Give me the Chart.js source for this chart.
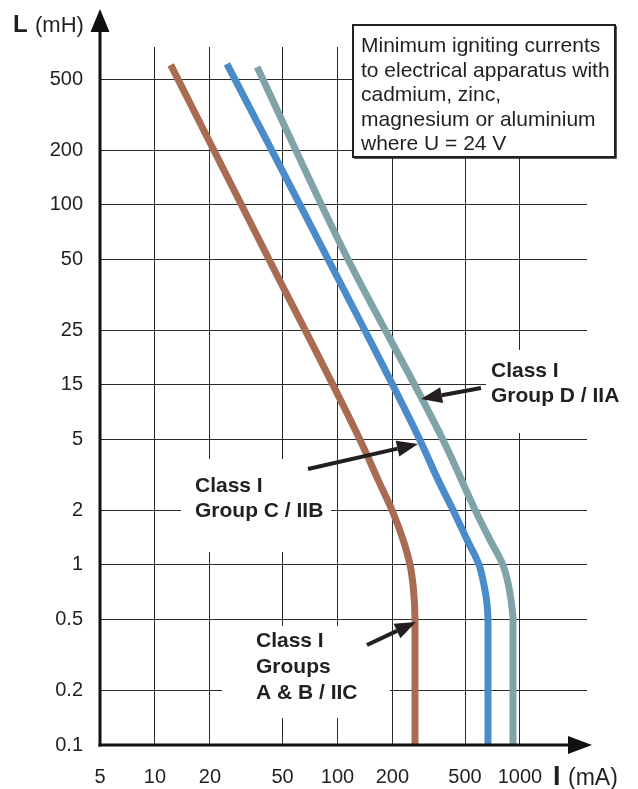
<!DOCTYPE html>
<html>
<head>
<meta charset="utf-8">
<script src="https://cdn.jsdelivr.net/npm/chart.js@4.4.1/dist/chart.umd.min.js"></script>
<style>
  html, body { margin: 0; padding: 0; background: #fff; }
  #wrap { width: 638px; height: 789px; }
</style>
</head>
<body>
<div id="wrap"><canvas id="chart" width="638" height="789"></canvas></div>
<script>
// --- axis ticks (labels "15" and "25" sit on the 10 and 20 decade marks, as printed) ---
const xTicks = [5, 10, 20, 50, 100, 200, 500, 1000];
const xTickLabels = ['5', '10', '20', '50', '100', '200', '500', '1000'];
const yTicks = [0.1, 0.2, 0.5, 1, 2, 5, 10, 20, 50, 100, 200, 500];
const yTickLabels = ['0.1', '0.2', '0.5', '1', '2', '5', '15', '25', '50', '100', '200', '500'];

// --- curves, I in mA / L in mH ---
// Class I Groups A & B / IIC (brown)
const abCurrent    = [12.2, 41.0, 133, 167, 201, 229, 250, 261, 266, 266];
const abInductance = [600, 52.7, 4.95, 2.97, 1.97, 1.38, 1.0, 0.73, 0.494, 0.1];
// Class I Group C / IIB (blue)
const cCurrent     = [24.8, 141, 283, 356, 435, 513, 597, 636, 656, 668, 668];
const cInductance  = [607, 20.2, 4.95, 2.97, 1.97, 1.38, 1.0, 0.77, 0.64, 0.494, 0.1];
// Class I Group D / IIA (grey)
const dCurrent     = [36.3, 109, 379, 575, 685, 807, 866, 893, 916, 916];
const dInductance  = [584, 54.8, 4.95, 1.97, 1.38, 1.0, 0.77, 0.64, 0.494, 0.1];

const FONT = '"Liberation Sans", Arial, Helvetica, sans-serif';
const INK = '#231f20';

function pts(xs, ys) {
    return xs.map((v, i) => ({ x: v, y: ys[i] }));
}

function arrow(ctx, x1, y1, x2, y2, len, half, lw) {
    const a = Math.atan2(y2 - y1, x2 - x1);
    const bx = x2 - len * Math.cos(a), by = y2 - len * Math.sin(a);
    ctx.beginPath();
    ctx.moveTo(x1, y1);
    ctx.lineTo(bx, by);
    ctx.lineWidth = lw;
    ctx.stroke();
    ctx.beginPath();
    ctx.moveTo(x2, y2);
    ctx.lineTo(bx + half * Math.sin(a), by - half * Math.cos(a));
    ctx.lineTo(bx - half * Math.sin(a), by + half * Math.cos(a));
    ctx.closePath();
    ctx.fill();
}

// white label boxes, note box, annotations and the arrowed axes
const decor = {
    id: 'decor',
    afterDraw(chart) {
        const ctx = chart.ctx;
        const area = chart.chartArea;
        ctx.save();

        // label backgrounds knock out the grid
        ctx.fillStyle = '#fff';
        ctx.fillRect(486, 350, 146, 83);
        ctx.fillRect(181, 459, 150, 93);
        ctx.fillRect(222, 626, 168, 92);

        // note box
        ctx.fillRect(353, 25, 262, 132);
        ctx.strokeStyle = '#222';
        ctx.lineWidth = 2;
        ctx.strokeRect(353, 25, 262, 132);
        ctx.beginPath();
        ctx.moveTo(616, 26); ctx.lineTo(616, 158); ctx.lineTo(354, 158);
        ctx.lineWidth = 1.5;
        ctx.stroke();

        ctx.fillStyle = INK;
        ctx.textAlign = 'left';
        ctx.textBaseline = 'alphabetic';
        ctx.font = '21px ' + FONT;
        const note = ['Minimum igniting currents', 'to electrical apparatus with',
                      'cadmium, zinc,', 'magnesium or aluminium', 'where U = 24 V'];
        note.forEach((t, i) => ctx.fillText(t, 361, 52 + i * 24.5));

        // curve labels
        ctx.font = 'bold 21px ' + FONT;
        ctx.fillText('Class I', 491, 377);
        ctx.fillText('Group D / IIA', 491, 402);
        ctx.fillText('Class I', 195, 492);
        ctx.fillText('Group C / IIB', 195, 517);
        ctx.fillText('Class I', 256, 647);
        ctx.fillText('Groups', 256, 673);
        ctx.fillText('A & B / IIC', 256, 699);

        // pointer arrows
        ctx.strokeStyle = INK;
        ctx.lineCap = 'butt';
        arrow(ctx, 481, 388, 421, 399, 21, 8, 4);
        arrow(ctx, 308, 469, 418, 444, 21, 8, 4);
        arrow(ctx, 367, 645, 416, 622, 21, 8, 4);

        // axes with arrow heads
        ctx.fillStyle = '#111';
        ctx.strokeStyle = '#111';
        arrow(ctx, area.left, area.bottom + 1.5, area.left, 9, 23, 9.5, 3);
        arrow(ctx, area.left - 1.5, area.bottom, 592, area.bottom, 24, 9, 3);

        // axis titles
        ctx.fillStyle = INK;
        ctx.font = 'bold 24px ' + FONT;
        ctx.fillText('L', 13, 32);
        ctx.font = '22px ' + FONT;
        ctx.fillText('(mH)', 35, 32);
        ctx.font = 'bold 27px ' + FONT;
        ctx.fillText('I', 553, 785);
        ctx.font = '23px ' + FONT;
        ctx.fillText('(mA)', 568, 785);

        ctx.restore();
    }
};

const lineStyle = {
    borderWidth: 7,
    pointRadius: 0,
    fill: false,
    cubicInterpolationMode: 'monotone',
    borderCapStyle: 'butt',
    borderJoinStyle: 'round'
};

new Chart(document.getElementById('chart').getContext('2d'), {
    type: 'line',
    data: {
        datasets: [
            { label: 'Class I Groups A & B / IIC', data: pts(abCurrent, abInductance), borderColor: '#a96b51', ...lineStyle },
            { label: 'Class I Group C / IIB', data: pts(cCurrent, cInductance), borderColor: '#4a8bca', ...lineStyle },
            { label: 'Class I Group D / IIA', data: pts(dCurrent, dInductance), borderColor: '#80a3a8', ...lineStyle }
        ]
    },
    options: {
        responsive: false,
        animation: false,
        devicePixelRatio: 1,
        indexAxis: 'y',
        layout: { padding: { top: 47, right: 51, left: 0, bottom: 0 } },
        plugins: { legend: { display: false }, tooltip: { enabled: false } },
        scales: {
            x: {
                type: 'logarithmic',
                position: 'bottom',
                min: 5,
                max: 2330,
                afterBuildTicks: s => { s.ticks = xTicks.map(v => ({ value: v })); },
                afterFit: s => { s.height = 44; },
                ticks: {
                    autoSkip: false,
                    maxRotation: 0,
                    padding: 20,
                    color: INK,
                    font: { family: FONT, size: 20 },
                    callback: (v) => xTickLabels[xTicks.indexOf(v)] ?? ''
                },
                grid: { color: '#2b2b2b', lineWidth: 1, drawTicks: false },
                border: { display: false }
            },
            y: {
                type: 'logarithmic',
                position: 'left',
                min: 0.1,
                max: 754,
                afterBuildTicks: s => { s.ticks = yTicks.map(v => ({ value: v })); },
                afterFit: s => { s.width = 100; },
                ticks: {
                    autoSkip: false,
                    padding: 17,
                    color: INK,
                    font: { family: FONT, size: 20 },
                    callback: (v) => yTickLabels[yTicks.indexOf(v)] ?? ''
                },
                grid: { color: '#2b2b2b', lineWidth: 1, drawTicks: false },
                border: { display: false }
            }
        }
    },
    plugins: [decor]
});
</script>
</body>
</html>
